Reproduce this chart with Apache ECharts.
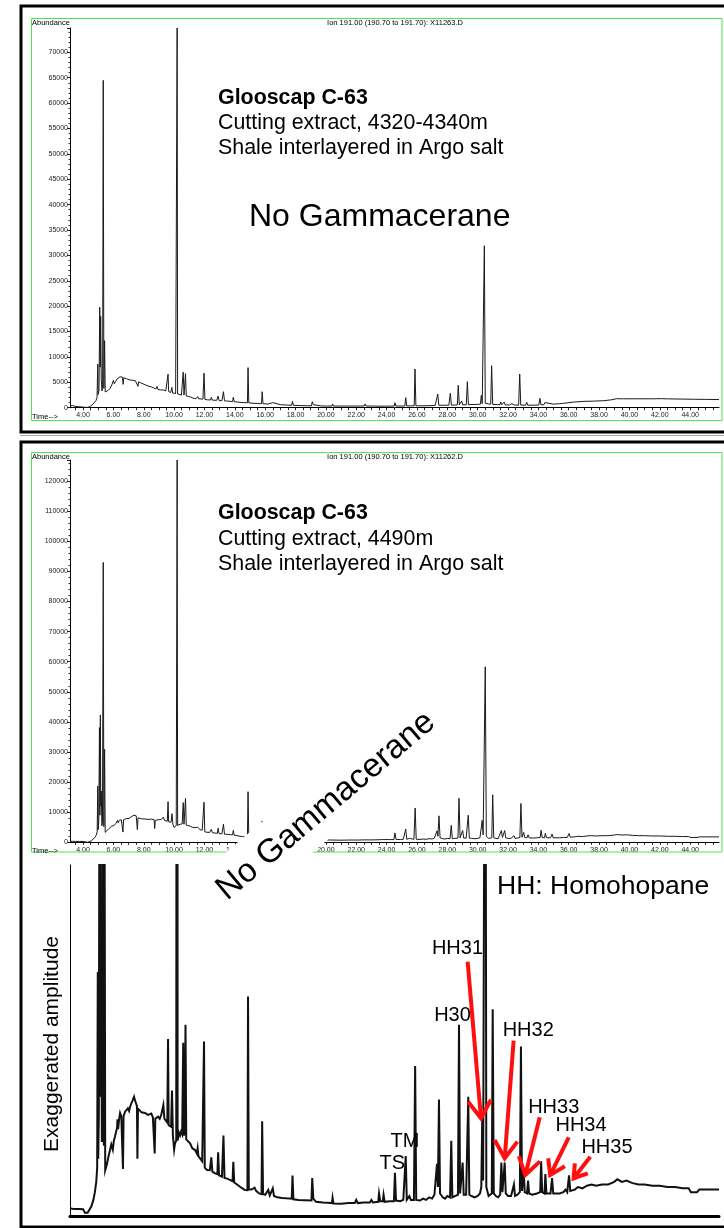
<!DOCTYPE html>
<html>
<head>
<meta charset="utf-8">
<script src="https://cdn.jsdelivr.net/npm/echarts@6/dist/echarts.min.js"></script>
<style>
  html, body { margin: 0; padding: 0; background: #fff; }
  #chart { width: 724px; height: 1228px; }
</style>
</head>
<body>
<div id="chart"></div>
<script>
// Ion 191 chromatograms, Glooscap C-63 cutting extracts: [retention time (min), abundance]
const sampleUpper = [ // 4320-4340 m
  [3.14,300],[3.22,320],[3.3,450],[3.36,350],[3.5,250],[3.7,200],[3.9,150],[4.1,80],[4.3,60],[4.45,200],[4.55,450],[4.65,700],[4.75,1000],[4.85,1400],[4.92,2000],
  [4.97,8600],[5.0,2600],[5.05,3400],[5.1,19800],[5.13,8000],[5.16,18000],[5.2,5500],[5.25,3300],[5.29,4500],[5.33,64500],[5.37,3800],[5.42,13200],[5.46,3100],
  [5.55,3000],[5.65,3400],[5.78,3800],[5.9,4500],[6.0,5400],[6.06,4700],[6.15,5200],[6.25,5700],[6.35,5500],[6.44,6100],[6.52,5800],[6.6,6000],[6.64,4600],
  [6.68,5900],[6.78,5800],[6.87,5700],[6.95,5900],[7.05,5500],[7.15,5700],[7.25,5400],[7.35,5600],[7.45,5300],[7.55,5300],[7.62,4200],[7.66,5100],[7.8,4900],
  [7.95,4700],[8.1,4500],[8.2,4300],[8.35,4200],[8.5,4100],[8.65,3900],[8.8,3700],[8.88,4200],[8.93,3600],[9.1,3500],[9.3,3500],[9.45,3300],[9.56,3300],
  [9.6,6600],[9.64,3200],[9.78,3000],[9.85,4000],[9.9,2900],[10.0,2850],[10.1,2800],[10.17,2750],[10.2,74800],[10.23,2700],[10.35,2600],[10.48,2500],
  [10.56,2450],[10.6,7000],[10.65,2500],[10.71,2450],[10.75,6700],[10.8,2300],[10.95,2200],[11.1,2100],[11.27,1850],[11.45,1800],[11.55,2200],[11.62,1750],
  [11.9,1700],[11.97,6800],[12.03,1650],[12.2,1550],[12.4,1520],[12.45,2050],[12.51,1500],[12.8,1450],[12.9,2300],[12.96,1400],[13.15,1380],[13.25,3150],
  [13.32,1350],[13.46,1320],[13.7,1250],[13.85,1200],[13.9,2050],[13.96,1180],[14.34,1060],[14.6,1000],[14.83,960],[14.87,7900],[14.92,950],[15.2,880],
  [15.5,820],[15.76,790],[15.8,3150],[15.86,780],[16.2,720],[16.5,1000],[16.58,680],[17.0,600],[17.4,520],[17.75,480],[17.8,1260],[17.86,470],[18.3,420],
  [18.8,380],[19.05,370],[19.1,1180],[19.17,600],[19.3,380],[19.7,350],[20.05,330],[20.4,330],[20.44,730],[20.5,330],[21.0,320],[21.6,320],[22.25,330],
  [22.52,330],[22.58,730],[22.65,330],[23.2,320],[23.5,300],[23.85,300],[23.9,600],[23.95,300],[24.3,320],[24.5,330],[24.55,990],[24.61,330],[25.0,330],
  [25.2,350],[25.26,1970],[25.32,350],[25.6,370],[25.82,380],[25.87,7620],[25.93,380],[26.4,380],[26.8,400],[27.2,450],[27.3,480],[27.37,2700],[27.44,480],
  [27.8,480],[28.1,500],[28.2,2830],[28.27,500],[28.5,520],[28.66,550],[28.72,4410],[28.79,550],[28.9,560],[28.95,1320],[29.01,560],[29.25,580],[29.32,5130],
  [29.39,600],[29.7,620],[30.0,650],[30.18,700],[30.24,2440],[30.3,800],[30.38,850],[30.44,31900],[30.5,900],[30.7,750],[30.86,700],[30.92,8270],[30.99,650],
  [31.3,620],[31.47,600],[31.52,1120],[31.58,580],[31.7,570],[31.75,1120],[31.81,560],[32.1,540],[32.25,800],[32.3,530],[32.35,900],[32.42,520],[32.7,510],
  [32.77,6640],[32.84,510],[33.15,500],[33.23,1060],[33.3,490],[33.7,500],[34.03,520],[34.1,1850],[34.17,560],[34.37,600],[34.43,1000],[34.5,620],[35.0,700],
  [35.4,800],[35.6,850],[35.68,1000],[35.76,900],[36.3,1100],[37.0,1250],[37.7,1300],[38.3,1380],[38.8,1550],[39.15,1770],[39.6,1750],[40.5,1760],[41.5,1750],
  [42.1,1780],[42.5,1740],[43.4,1700],[44.3,1660],[45.0,1640],[45.9,1600]
];

const sampleLower = [ // 4490 m
  [3.14,350],[3.3,320],[3.5,300],[3.75,300],[4.0,280],[4.08,250],[4.12,0],[4.3,0],[4.42,150],[4.55,500],[4.68,1000],[4.78,1600],[4.87,2400],[4.93,3500],
  [4.97,18700],[5.0,4200],[5.04,7500],[5.08,38100],[5.11,9000],[5.14,42300],[5.17,12000],[5.2,17000],[5.24,5500],[5.28,6500],[5.33,93000],[5.37,5200],
  [5.42,30900],[5.46,3300],[5.52,3200],[5.58,3800],[5.68,4400],[5.78,4900],[5.86,5300],[5.91,5400],[5.96,4900],[6.03,5600],[6.1,5900],[6.18,6300],[6.24,6600],
  [6.27,7250],[6.31,6500],[6.38,7300],[6.44,7750],[6.52,7500],[6.6,7600],[6.63,3400],[6.67,7500],[6.77,7850],[6.86,7900],[6.95,8100],[7.03,7900],[7.1,8230],
  [7.18,8500],[7.26,8700],[7.36,9010],[7.43,8700],[7.5,8800],[7.55,8300],[7.58,4200],[7.62,8100],[7.7,8000],[7.75,8100],[7.85,7800],[7.95,7900],[8.08,7750],
  [8.18,7900],[8.28,7600],[8.4,7590],[8.5,7700],[8.6,7400],[8.68,7500],[8.72,4600],[8.76,7300],[8.85,7400],[8.94,7460],[9.05,7300],[9.15,7600],[9.2,7590],
  [9.29,8370],[9.36,7300],[9.47,7200],[9.55,7000],[9.6,13500],[9.64,6800],[9.72,6700],[9.8,6680],[9.86,9500],[9.92,6000],[10.0,4900],[10.06,5400],[10.14,5600],
  [10.17,5600],[10.2,127000],[10.23,5600],[10.32,6200],[10.39,6000],[10.46,6300],[10.53,6100],[10.6,13200],[10.65,6000],[10.7,6400],[10.75,14600],[10.8,5700],
  [10.9,5600],[11.05,5390],[11.2,5000],[11.38,4870],[11.5,4600],[11.55,5000],[11.6,4400],[11.71,4220],[11.85,4000],[11.93,3900],[11.97,13300],[12.02,3500],
  [12.17,3320],[12.35,3300],[12.45,4300],[12.52,3200],[12.7,3060],[12.85,3000],[12.9,4700],[12.96,2900],[13.15,2800],[13.25,6000],[13.32,2700],[13.5,2650],
  [13.7,2540],[13.85,2450],[13.9,3950],[13.96,2350],[14.15,2200],[14.34,2020],[14.5,1900],[14.67,1770],[14.83,1750],[14.87,16800],[14.92,1800],[15.1,1800],
  [15.3,1950],[15.4,1700],[15.5,1800],[15.6,1500],[15.76,1450],[15.8,7100],[15.86,1450],[16.0,1400],[16.2,1770],[16.3,1350],[16.5,1900],[16.58,1300],[16.8,1200],
  [17.1,1150],[17.4,1120],[17.75,1100],[17.8,2900],[17.86,1050],[18.2,1000],[18.6,980],[19.05,950],[19.1,2700],[19.17,1100],[19.35,850],[19.8,800],[20.1,780],
  [20.4,750],[20.44,1170],[20.5,720],[21.0,700],[21.5,750],[21.9,750],[22.0,1000],[22.1,750],[22.5,800],[22.9,800],[23.0,1000],[23.1,800],[23.45,850],
  [23.5,1500],[23.58,900],[23.75,900],[23.8,1400],[23.87,850],[24.2,900],[24.48,900],[24.55,3100],[24.62,950],[24.9,900],[25.1,1000],[25.2,1000],[25.26,4400],
  [25.33,1000],[25.5,1300],[25.6,1000],[25.8,1000],[25.88,11400],[25.95,1000],[26.2,950],[26.4,1100],[26.6,1000],[26.8,1200],[27.0,1100],[27.15,1400],
  [27.32,3800],[27.38,2000],[27.45,8800],[27.52,1500],[27.7,1200],[27.85,1100],[28.0,1300],[28.18,1200],[28.26,5600],[28.33,1200],[28.5,1300],[28.62,1200],
  [28.7,1400],[28.77,14600],[28.84,1500],[28.95,1500],[29.01,3900],[29.08,1400],[29.24,1400],[29.3,1500],[29.38,9000],[29.45,1400],[29.6,1300],[29.8,1200],
  [30.0,1300],[30.15,1500],[30.24,2000],[30.3,7300],[30.36,2500],[30.43,2500],[30.5,58300],[30.57,2000],[30.72,1300],[30.85,1200],[30.93,1500],[30.99,15800],
  [31.06,1500],[31.2,1300],[31.35,1200],[31.48,1400],[31.56,3900],[31.63,1600],[31.71,1600],[31.78,3900],[31.85,1500],[32.0,1300],[32.2,1300],[32.39,2200],
  [32.46,1300],[32.62,1400],[32.78,1600],[32.85,12900],[32.92,1700],[32.97,1700],[33.03,3300],[33.1,1600],[33.25,1500],[33.32,2500],[33.39,1500],[33.6,1400],
  [33.9,1500],[34.12,1600],[34.18,4000],[34.25,1600],[34.4,1500],[34.46,3000],[34.53,1500],[34.8,1500],[34.9,2700],[34.98,1500],[35.4,1500],[35.65,1600],
  [35.78,1800],[35.9,1600],[36.02,2900],[36.1,1700],[36.4,1800],[36.6,2000],[36.9,1900],[37.2,2100],[37.5,2200],[37.8,2100],[38.2,2200],[38.6,2200],[39.0,2400],
  [39.2,2600],[39.5,2400],[39.8,2500],[40.2,2300],[40.6,2200],[41.0,2200],[41.5,2100],[42.0,2100],[42.5,2000],[43.0,2000],[43.5,1900],[43.9,1900],[44.05,1600],
  [44.45,1600],[44.6,1800],[45.0,1800],[45.5,1800],[45.9,1800]
];

// Axis labels
const timeLabels = [4, 6, 8, 10, 12, 14, 16, 18, 20, 22, 24, 26, 28, 30, 32, 34, 36, 38, 40, 42, 44];
const timeTicks = [];
for (let t = 3.5; t <= 45.6; t += 0.5) timeTicks.push(+t.toFixed(1));

// Peak names on the enlarged trace, placed at [time, abundance]
const peakNotes = [
  { text: 'TS',   at: [24.38, 3840] },
  { text: 'TM',   at: [25.21, 5570] },
  { text: 'H30',  at: [28.34, 15300] },
  { text: 'HH31', at: [28.67, 20480] },
  { text: 'HH32', at: [33.33, 14190] },
  { text: 'HH33', at: [35.01, 8190] },
  { text: 'HH34', at: [36.81, 6740] },
  { text: 'HH35', at: [38.52, 5050] }
];
// Arrows from each homohopane name to its peak
const homohopaneArrows = [
  { tail: [29.34, 19490], tip: [30.22, 7335], head: 21 },
  { tail: [32.37, 13360], tip: [31.78, 4230], head: 21 },
  { tail: [34.09, 7410],  tip: [33.14, 2930], head: 20 },
  { tail: [36.0, 5860],   tip: [34.78, 2930], head: 17 },
  { tail: [37.42, 4350],  tip: [36.32, 2680], head: 15 }
];

const FONT = '"Liberation Sans", Arial, Helvetica, sans-serif';
const T_MIN = 3.14, T_MAX = 45.9;

function timeAxis(gridIndex, shown) {
  return {
    type: 'value', gridIndex: gridIndex, min: T_MIN, max: T_MAX,
    axisLine: { show: true, onZero: false, lineStyle: { color: '#000', width: shown ? 1 : 3 } },
    axisTick: shown ? { show: true, customValues: timeTicks, length: 2.5, lineStyle: { color: '#222', width: 1 } } : { show: false },
    axisLabel: shown ? { show: true, customValues: timeLabels, formatter: v => v.toFixed(2), fontSize: 7, color: '#222', fontFamily: FONT, margin: 4 } : { show: false },
    splitLine: { show: false }
  };
}
function abundanceAxis(gridIndex, max, step) {
  return {
    type: 'value', gridIndex: gridIndex, min: 0, max: max, interval: step,
    axisLine: { show: true, onZero: false, lineStyle: { color: '#000', width: 1 } },
    axisTick: { show: true, length: 3, lineStyle: { color: '#222' } },
    minorTick: { show: true, splitNumber: 5, length: 1.5, lineStyle: { color: '#333' } },
    axisLabel: { formatter: v => String(v), fontSize: 7, color: '#222', fontFamily: FONT, margin: 2, showMaxLabel: false },
    splitLine: { show: false }
  };
}
function trace(gridIndex, data, width, color) {
  return {
    type: 'line', xAxisIndex: gridIndex, yAxisIndex: gridIndex, data: data,
    showSymbol: false, symbol: 'none', clip: true, animation: false,
    lineStyle: { color: color, width: width, join: 'miter' }, z: 3
  };
}
function textStyle(text, size, align, weight) {
  return { text: text, fontSize: size, fontWeight: weight || 'normal', fontFamily: FONT, fill: '#000',
           textAlign: align || 'left', align: align || 'left', textVerticalAlign: 'middle', verticalAlign: 'middle' };
}
function label(x, y, text, size, align, weight, extra) {
  return Object.assign({ type: 'text', x: x, y: y, z: 60, style: textStyle(text, size, align, weight) }, extra || {});
}

const baseGraphics = [
  // panel frames
  { type: 'rect', z: 1, shape: { x: 21, y: 6, width: 720, height: 426 }, style: { fill: 'none', stroke: '#000', lineWidth: 3 } },
  { type: 'line', z: 1, shape: { x1: 20, y1: 435.5, x2: 724, y2: 435.5 }, style: { stroke: '#aaa', lineWidth: 1 } },
  { type: 'rect', z: 1, shape: { x: 21, y: 442, width: 720, height: 785 }, style: { fill: 'none', stroke: '#000', lineWidth: 3 } },
  { type: 'rect', z: 1, shape: { x: 31.5, y: 18.5, width: 690.5, height: 402 }, style: { fill: 'none', stroke: '#4de84d', lineWidth: 1 } },
  { type: 'rect', z: 1, shape: { x: 31.5, y: 452.5, width: 690.5, height: 399.5 }, style: { fill: 'none', stroke: '#4de84d', lineWidth: 1 } },
  // instrument headers
  label(32, 23, 'Abundance', 7.5),
  label(395, 23, 'Ion 191.00 (190.70 to 191.70): X11263.D', 7.5, 'center'),
  label(32, 417, 'Time-->', 7.5),
  label(32, 457, 'Abundance', 7.5),
  label(395, 457, 'Ion 191.00 (190.70 to 191.70): X11262.D', 7.5, 'center'),
  label(32, 851, 'Time-->', 7.5),
  // sample captions
  label(218, 98, 'Glooscap C-63', 21.4, 'left', 'bold'),
  label(218, 123, 'Cutting extract, 4320-4340m', 21.4),
  label(218, 148, 'Shale interlayered in Argo salt', 21.4),
  label(249, 217, 'No Gammacerane', 32),
  label(218, 513, 'Glooscap C-63', 21.4, 'left', 'bold'),
  label(218, 539, 'Cutting extract, 4490m', 21.4),
  label(218, 564, 'Shale interlayered in Argo salt', 21.4),
  // enlarged panel captions
  label(52, 1044, 'Exaggerated amplitude', 21, 'center', 'normal', { rotation: Math.PI / 2 }),
  label(497, 887, 'HH: Homohopane', 26.5),
  // rotated note on a white card
  {
    type: 'group', x: 326, y: 806, rotation: 40 * Math.PI / 180, z: 80,
    children: [
      { type: 'rect', z: 80, shape: { x: -160, y: -29, width: 320, height: 56 }, style: { fill: '#fff' } },
      { type: 'text', z: 81, x: 0, y: 0, style: textStyle('No Gammacerane', 33.5, 'center') }
    ]
  }
];

const option = {
  animation: false,
  backgroundColor: '#fff',
  grid: [
    { left: 70, right: 5, top: 28, bottom: 820.3 },
    { left: 70, right: 5, top: 460, bottom: 385.7 },
    { left: 70, right: 5, top: 865, bottom: 12 }
  ],
  xAxis: [timeAxis(0, true), timeAxis(1, true), timeAxis(2, false)],
  yAxis: [
    abundanceAxis(0, 74800, 5000),
    abundanceAxis(1, 127000, 10000),
    {
      type: 'value', gridIndex: 2, min: -250, max: 27000,
      axisLine: { show: true, onZero: false, lineStyle: { color: '#000', width: 1 } },
      axisTick: { show: false }, axisLabel: { show: false }, splitLine: { show: false }
    }
  ],
  series: [
    trace(0, sampleUpper, 1, '#1a1a1a'),
    trace(1, sampleLower, 1, '#1a1a1a'),
    trace(2, sampleLower, 2, '#111')
  ],
  graphic: { elements: baseGraphics }
};

const chart = echarts.init(document.getElementById('chart'), null, { renderer: 'canvas' });
chart.setOption(option);

// Peak names and arrows, positioned through the enlarged panel's scales
const toPx = p => chart.convertToPixel({ gridIndex: 2 }, p);
const annotations = [];
peakNotes.forEach(n => {
  const p = toPx(n.at);
  annotations.push(label(p[0], p[1], n.text, 20, 'center'));
});
homohopaneArrows.forEach(a => {
  const s = toPx(a.tail), t = toPx(a.tip);
  const dx = s[0] - t[0], dy = s[1] - t[1];
  const len = Math.hypot(dx, dy), ux = dx / len, uy = dy / len;
  const ang = 33 * Math.PI / 180;
  const arm = sign => [
    t[0] + a.head * (ux * Math.cos(ang) - sign * uy * Math.sin(ang)),
    t[1] + a.head * (uy * Math.cos(ang) + sign * ux * Math.sin(ang))
  ];
  annotations.push({ type: 'line', z: 70, shape: { x1: s[0], y1: s[1], x2: t[0], y2: t[1] }, style: { stroke: '#ff1010', lineWidth: 4 } });
  annotations.push({ type: 'polyline', z: 70, shape: { points: [arm(1), t, arm(-1)] }, style: { stroke: '#ff1010', lineWidth: 4, fill: null, lineJoin: 'miter' } });
});
chart.setOption({ graphic: { elements: baseGraphics.concat(annotations) } }, { replaceMerge: ['graphic'] });
</script>
</body>
</html>
